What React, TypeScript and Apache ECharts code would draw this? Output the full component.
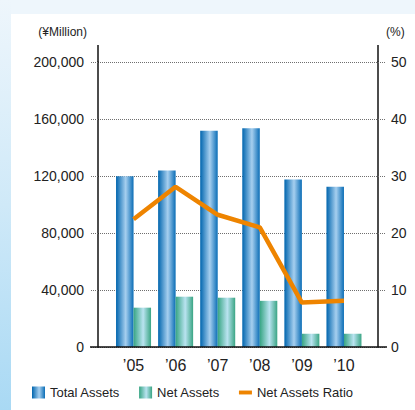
import React, { useEffect, useRef } from "react";
import * as echarts from "echarts";

const years = ["’05", "’06", "’07", "’08", "’09", "’10"];
const totalAssets = [119800, 123800, 151800, 153500, 117500, 112500];
const netAssets = [27600, 35300, 34600, 32400, 9300, 9300];
const netAssetsRatio = [22.4, 28.1, 23.2, 21.0, 7.8, 8.1];
const leftTicks = { min: 0, max: 200000, interval: 40000 };
const rightTicks = { min: 0, max: 50, interval: 10 };

const FONT = "'Liberation Sans', Arial, Helvetica, sans-serif";

export default function App() {
  const ref = useRef<HTMLDivElement>(null);
  useEffect(() => {
    if (!ref.current) return;
    const chart = echarts.init(ref.current, undefined, { renderer: "svg" });
    const blue = new echarts.graphic.LinearGradient(0, 0, 1, 0, [
      { offset: 0, color: "#0065ae" },
      { offset: 0.55, color: "#a6cfef" },
      { offset: 1, color: "#0a6db6" },
    ]);
    const green = new echarts.graphic.LinearGradient(0, 0, 1, 0, [
      { offset: 0, color: "#37a583" },
      { offset: 0.55, color: "#b9e3f0" },
      { offset: 1, color: "#3aa584" },
    ]);
    const dotted = { color: "#6f6f6f", width: 1, type: [1, 1] as any };
    const axisLineStyle = { color: "#111", width: 1.5 };
    chart.setOption({
      animation: false,
      grid: [
        { left: 98, right: 37, top: 62, bottom: 63 },
        { left: 112.5, right: 50, top: 62, bottom: 63 },
      ],
      xAxis: [
        { gridIndex: 0, type: "value", show: false, min: 0, max: 1 },
        {
          gridIndex: 1,
          type: "category",
          data: years,
          axisLine: { show: false },
          axisTick: { show: false },
          axisLabel: { fontSize: 16, color: "#222", fontFamily: FONT, margin: 10 },
        },
      ],
      yAxis: [
        {
          gridIndex: 0,
          type: "value",
          position: "left",
          ...leftTicks,
          name: "(¥Million)",
          nameLocation: "end",
          nameGap: 24,
          nameTextStyle: { fontSize: 12, color: "#222", fontFamily: FONT, align: "right", padding: [0, 11, 0, 0] },
          axisLine: { show: true, lineStyle: axisLineStyle },
          axisTick: { show: true, length: 8, lineStyle: dotted },
          splitLine: { show: true, lineStyle: dotted },
          axisLabel: {
            fontSize: 14,
            color: "#222",
            fontFamily: FONT,
            margin: 14,
            formatter: (v: number) => v.toLocaleString("en-US"),
          },
        },
        {
          gridIndex: 0,
          type: "value",
          position: "right",
          ...rightTicks,
          name: "(%)",
          nameLocation: "end",
          nameGap: 24,
          nameTextStyle: { fontSize: 12, color: "#222", fontFamily: FONT, align: "left", padding: [0, 0, 0, 8] },
          axisLine: { show: true, lineStyle: axisLineStyle },
          axisTick: { show: true, length: 8, lineStyle: dotted },
          splitLine: { show: false },
          axisLabel: { fontSize: 14, color: "#222", fontFamily: FONT, margin: 13 },
        },
        { gridIndex: 1, type: "value", show: false, ...leftTicks, splitLine: { show: false } },
        { gridIndex: 1, type: "value", show: false, ...rightTicks, splitLine: { show: false } },
      ],
      legend: {
        left: 27,
        top: 381,
        itemWidth: 13,
        itemHeight: 12,
        itemGap: 19,
        textStyle: { fontSize: 13, color: "#222", fontFamily: FONT },
        data: [
          { name: "Total Assets", icon: "rect" },
          { name: "Net Assets", icon: "rect" },
          { name: "Net Assets Ratio", icon: "path://M0,0 L15,0 L15,4.5 L0,4.5 Z" },
        ],
      },
      series: [
        {
          name: "Total Assets",
          type: "bar",
          xAxisIndex: 1,
          yAxisIndex: 2,
          barWidth: 17.5,
          barGap: "0%",
          itemStyle: { color: blue },
          data: totalAssets,
        },
        {
          name: "Net Assets",
          type: "bar",
          xAxisIndex: 1,
          yAxisIndex: 2,
          barWidth: 17.5,
          barGap: "0%",
          itemStyle: { color: green },
          data: netAssets,
        },
        {
          name: "Net Assets Ratio",
          type: "line",
          xAxisIndex: 1,
          yAxisIndex: 3,
          symbol: "none",
          z: 5,
          color: "#ee8400",
          itemStyle: { color: "#ee8400" },
          lineStyle: { color: "#ee8400", width: 4.5 },
          data: netAssetsRatio,
        },
      ],
      graphic: [
        { type: "line", z: 10, shape: { x1: 98, y1: 45, x2: 98, y2: 62 }, style: { stroke: "#111", lineWidth: 1.5 } },
        { type: "line", z: 10, shape: { x1: 378, y1: 45, x2: 378, y2: 62 }, style: { stroke: "#111", lineWidth: 1.5 } },
        { type: "line", z: 10, shape: { x1: 90, y1: 347, x2: 387, y2: 347 }, style: { stroke: "#111", lineWidth: 1.5 } },
      ],
    });
    return () => chart.dispose();
  }, []);
  return (
    <div
      style={{
        position: "fixed",
        left: 0,
        top: 0,
        width: 415,
        height: 410,
        background: "#eef6fc",
        overflow: "hidden",
      }}
    >
      <div
        style={{
          position: "absolute",
          left: 0,
          top: 0,
          width: 11,
          height: 410,
          background: "linear-gradient(to bottom, #eef6fc 0%, #cfe9f8 50%, #a9d9f4 100%)",
        }}
      />
      <div style={{ position: "absolute", left: 11, top: 14, width: 404, height: 396, background: "#fff" }} />
      <div ref={ref} style={{ position: "absolute", left: 0, top: 0, width: 415, height: 410 }} />
    </div>
  );
}
